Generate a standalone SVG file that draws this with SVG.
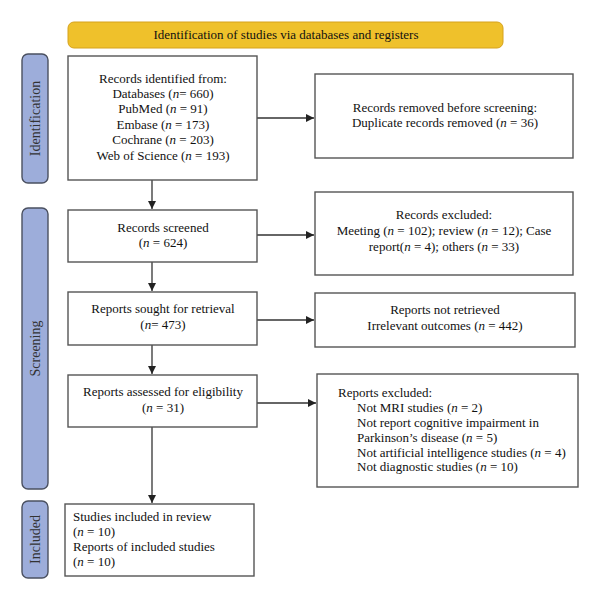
<svg xmlns="http://www.w3.org/2000/svg" width="600" height="600" viewBox="0 0 600 600">
<defs>
<style>
.box{fill:#fff;stroke:#555;stroke-width:1.4}
.side{fill:#9dadda;stroke:#4a5060;stroke-width:1.4}
.hdr{fill:#efc12b;stroke:#d6a21c;stroke-width:1}
text{font-family:"Liberation Serif","Times New Roman",serif;font-size:13px;fill:#111}
.c{text-anchor:middle}
.st{font-size:14px;fill:#333}
.line{stroke:#333;stroke-width:1.3;fill:none}
</style>
<marker id="ah" markerWidth="10" markerHeight="10" refX="8" refY="4" orient="auto" markerUnits="userSpaceOnUse">
<path d="M0,0 L8,4 L0,8 Z" fill="#222"/>
</marker>
</defs>
<rect width="600" height="600" fill="#fff"/>

<g id="header">
<rect class="hdr" x="68" y="22" width="435" height="26" rx="6"/>
<text class="c" x="286" y="39">Identification of studies via databases and registers</text>
</g>

<g id="side-identification">
<rect class="side" x="22" y="54" width="26" height="129" rx="6"/>
<text class="c st" transform="translate(39.5,118.5) rotate(-90)">Identification</text>
</g>
<g id="side-screening">
<rect class="side" x="22" y="208" width="26" height="281" rx="6"/>
<text class="c st" transform="translate(39.5,348.5) rotate(-90)">Screening</text>
</g>
<g id="side-included">
<rect class="side" x="22" y="501" width="26" height="77" rx="6"/>
<text class="c st" transform="translate(39.5,539.5) rotate(-90)">Included</text>
</g>

<g id="connectors">
<line class="line" x1="257" y1="118" x2="314" y2="118" marker-end="url(#ah)"/>
<line class="line" x1="152" y1="180" x2="152" y2="209" marker-end="url(#ah)"/>
<line class="line" x1="257" y1="235" x2="314" y2="235" marker-end="url(#ah)"/>
<line class="line" x1="152" y1="262" x2="152" y2="291" marker-end="url(#ah)"/>
<line class="line" x1="257" y1="320" x2="314" y2="320" marker-end="url(#ah)"/>
<line class="line" x1="152" y1="345" x2="152" y2="374" marker-end="url(#ah)"/>
<line class="line" x1="257" y1="403" x2="316" y2="403" marker-end="url(#ah)"/>
<line class="line" x1="152" y1="427" x2="152" y2="503" marker-end="url(#ah)"/>
</g>

<g id="records-identified">
<rect class="box" x="68" y="56" width="189" height="124"/>
<text class="c" x="163" y="83">Records identified from:</text>
<text class="c" x="163" y="98">Databases (<tspan font-style="italic">n</tspan>= 660)</text>
<text class="c" x="163" y="113">PubMed (<tspan font-style="italic">n</tspan> = 91)</text>
<text class="c" x="163" y="129">Embase (<tspan font-style="italic">n</tspan> = 173)</text>
<text class="c" x="163" y="144">Cochrane (<tspan font-style="italic">n</tspan> = 203)</text>
<text class="c" x="163" y="160">Web of Science (<tspan font-style="italic">n</tspan> = 193)</text>
</g>

<g id="records-removed">
<rect class="box" x="315" y="74" width="258" height="84"/>
<text class="c" x="445" y="112">Records removed before screening:</text>
<text class="c" x="445" y="127">Duplicate records removed (<tspan font-style="italic">n</tspan> = 36)</text>
</g>

<g id="records-screened">
<rect class="box" x="68" y="210" width="189" height="52"/>
<text class="c" x="163" y="232">Records screened</text>
<text class="c" x="163" y="247">(<tspan font-style="italic">n</tspan> = 624)</text>
</g>

<g id="records-excluded">
<rect class="box" x="315" y="192" width="258" height="83"/>
<text class="c" x="444" y="219">Records excluded:</text>
<text class="c" x="444" y="235">Meeting (<tspan font-style="italic">n</tspan> = 102); review (<tspan font-style="italic">n</tspan> = 12); Case</text>
<text class="c" x="444" y="251">report(<tspan font-style="italic">n</tspan> = 4); others (<tspan font-style="italic">n</tspan> = 33)</text>
</g>

<g id="reports-sought">
<rect class="box" x="68" y="292" width="189" height="53"/>
<text class="c" x="163" y="313">Reports sought for retrieval</text>
<text class="c" x="163" y="329">(<tspan font-style="italic">n</tspan>= 473)</text>
</g>

<g id="reports-not-retrieved">
<rect class="box" x="315" y="293" width="260" height="54"/>
<text class="c" x="445" y="314">Reports not retrieved</text>
<text class="c" x="445" y="330">Irrelevant outcomes (<tspan font-style="italic">n</tspan> = 442)</text>
</g>

<g id="reports-assessed">
<rect class="box" x="68" y="375" width="189" height="52"/>
<text class="c" x="163" y="396">Reports assessed for eligibility</text>
<text class="c" x="163" y="412">(<tspan font-style="italic">n</tspan> = 31)</text>
</g>

<g id="reports-excluded">
<rect class="box" x="317" y="374" width="261" height="113"/>
<text x="338" y="397">Reports excluded:</text>
<text x="357" y="412">Not MRI studies (<tspan font-style="italic">n</tspan> = 2)</text>
<text x="357" y="427">Not report cognitive impairment in</text>
<text x="357" y="442">Parkinson’s disease (<tspan font-style="italic">n</tspan> = 5)</text>
<text x="357" y="457">Not artificial intelligence studies (<tspan font-style="italic">n</tspan> = 4)</text>
<text x="357" y="471">Not diagnostic studies (<tspan font-style="italic">n</tspan> = 10)</text>
</g>

<g id="studies-included">
<rect class="box" x="65" y="504" width="189" height="72"/>
<text x="73" y="521">Studies included in review</text>
<text x="73" y="536">(<tspan font-style="italic">n</tspan> = 10)</text>
<text x="73" y="551">Reports of included studies</text>
<text x="73" y="566">(<tspan font-style="italic">n</tspan> = 10)</text>
</g>
</svg>
